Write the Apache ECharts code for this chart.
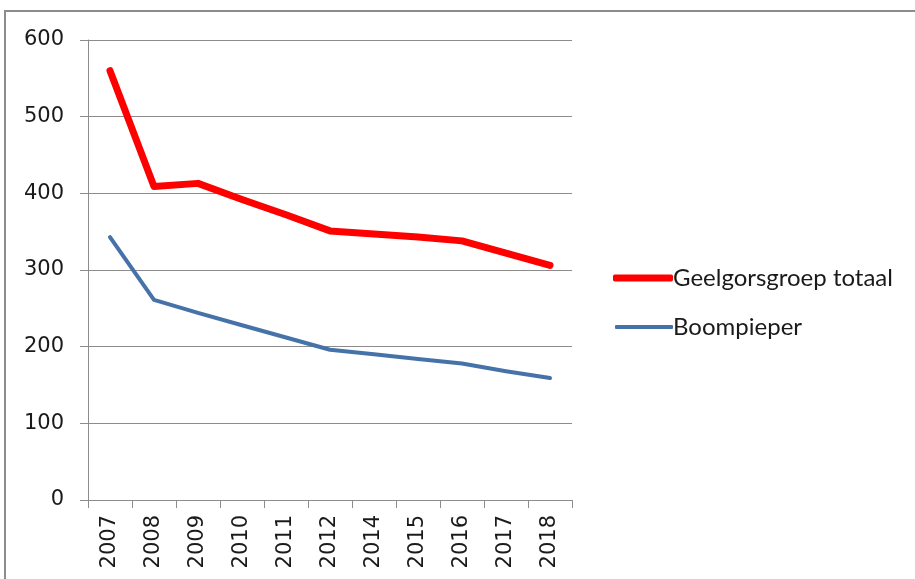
<!DOCTYPE html>
<html>
<head>
<meta charset="utf-8">
<script src="https://cdn.jsdelivr.net/npm/echarts@6/dist/echarts.min.js"></script>
<style>
html,body{margin:0;padding:0;background:#fff;}
#chart{width:915px;height:579px;}
</style>
</head>
<body>
<div id="chart"></div>
<script>
const years = ['2007','2008','2009','2010','2011','2012','2014','2015','2016','2017','2018'];
const geelgorsgroep = [560, 409, 413, 392, 372, 351, 347, 343, 338, 322, 306];
const boompieper = [343, 261, 244, 228, 212, 196, 190, 184, 178, 168, 159];
const yTicks = [0, 100, 200, 300, 400, 500, 600];
const seriesNames = ['Geelgorsgroep totaal', 'Boompieper'];

const legendText = {fontFamily: 'Lato', fontSize: 24, color: '#1a1a1a', padding: [0, 0, 0, -5]};

const chart = echarts.init(document.getElementById('chart'), null, {renderer: 'canvas'});
chart.setOption({
  animation: false,
  backgroundColor: '#ffffff',
  graphic: [{
    type: 'rect',
    shape: {x: 5, y: 11, width: 1200, height: 1000},
    style: {fill: 'none', stroke: '#8c8c8c', lineWidth: 2},
    silent: true
  }],
  grid: {left: 88, right: 343, top: 40, bottom: 79, containLabel: false},
  legend: [
    {
      left: 608, top: 261,
      icon: 'roundRect',
      itemWidth: 60, itemHeight: 7,
      textStyle: legendText,
      data: [seriesNames[0]]
    },
    {
      left: 610, top: 310,
      icon: 'roundRect',
      itemWidth: 58, itemHeight: 4,
      textStyle: legendText,
      data: [seriesNames[1]]
    }
  ],
  xAxis: {
    type: 'category',
    data: years,
    boundaryGap: true,
    axisLine: {show: true, lineStyle: {color: '#8c8c8c', width: 1}},
    axisTick: {show: true, length: 8, lineStyle: {color: '#8c8c8c'}},
    axisLabel: {rotate: 90, fontFamily: 'DejaVu Sans', fontSize: 21, color: '#1a1a1a', margin: 15, interval: 0},
    splitLine: {show: false}
  },
  yAxis: {
    type: 'value',
    min: yTicks[0],
    max: yTicks[yTicks.length - 1],
    interval: 100,
    axisLine: {show: true, lineStyle: {color: '#8c8c8c', width: 1}},
    axisTick: {show: true, length: 8, lineStyle: {color: '#8c8c8c'}},
    axisLabel: {fontFamily: 'DejaVu Sans', fontSize: 21, color: '#1a1a1a', margin: 24},
    splitLine: {show: true, lineStyle: {color: '#8c8c8c', width: 1}}
  },
  series: [
    {
      name: seriesNames[0],
      type: 'line',
      data: geelgorsgroep,
      showSymbol: false,
      symbol: 'none',
      color: '#ff0000',
      lineStyle: {color: '#ff0000', width: 7, cap: 'round', join: 'round'},
      z: 3
    },
    {
      name: seriesNames[1],
      type: 'line',
      data: boompieper,
      showSymbol: false,
      symbol: 'none',
      color: '#4672aa',
      lineStyle: {color: '#4672aa', width: 4, cap: 'round', join: 'round'},
      z: 2
    }
  ]
});
</script>
</body>
</html>
